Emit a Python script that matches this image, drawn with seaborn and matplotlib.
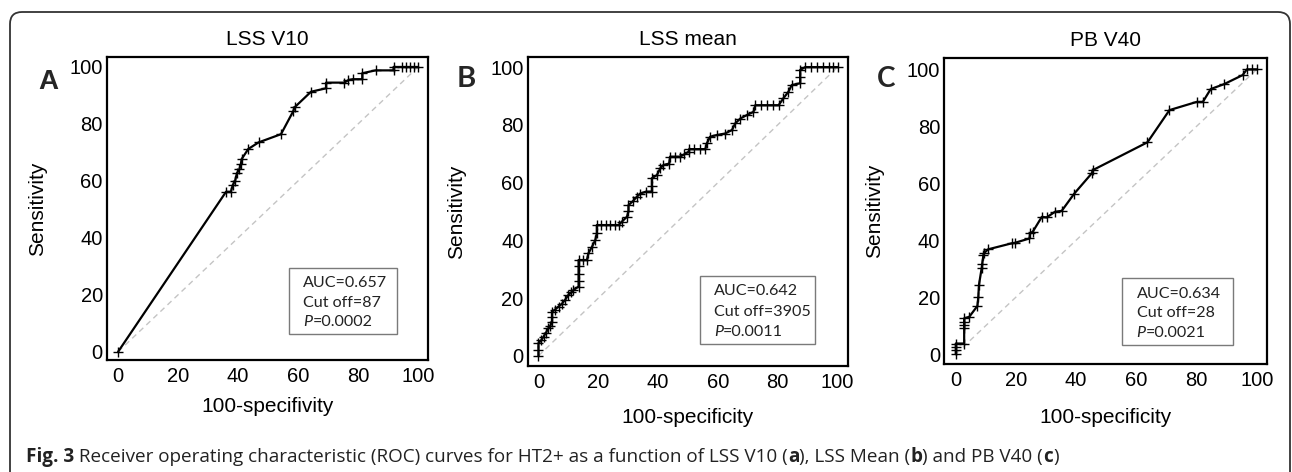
import matplotlib
matplotlib.use("Agg")
import matplotlib.pyplot as plt
import seaborn as sns
from matplotlib.patches import FancyBboxPatch, Rectangle
from matplotlib.ticker import MultipleLocator, AutoMinorLocator
from matplotlib.transforms import IdentityTransform

# ROC points (100-specificity, sensitivity)
a_fpr = [0, 36.0, 37.6, 38.2, 39.0, 39.6, 40.4, 40.9, 41.2, 43.4, 46.8, 54.3, 58.4, 58.8,
         64.3, 69.3, 69.3, 75.4, 76.8, 78.2, 81.4, 81.4, 85.8, 91.8, 91.8, 94.6, 96.0,
         97.3, 98.7, 100]
a_tpr = [0, 56.2, 56.2, 58.5, 60.0, 62.7, 64.0, 65.8, 67.7, 71.2, 73.5, 76.4, 84.5, 85.8,
         91.3, 92.5, 94.5, 94.5, 95.4, 95.7, 95.7, 97.8, 98.8, 98.8, 100, 100, 100,
         100, 100, 100]

b_fpr = [0, 0, 0, 1.0, 1.7, 2.5, 3.3, 4.0, 4.5, 4.5, 4.5, 5.5, 6.7, 7.8, 8.9, 10.0, 11.0,
         11.7, 13.4, 13.4, 13.4, 13.4, 13.4, 14.8, 16.2, 16.7, 17.9, 19.0, 19.5, 19.5,
         21.0, 22.5, 24.0, 25.5, 26.8, 27.9, 29.6, 30.1, 30.1, 31.5, 32.9, 34.0, 36.0,
         37.9, 37.9, 37.9, 39.6, 40.7, 41.8, 43.7, 44.0, 45.5, 47.4, 48.8, 50.2, 50.4,
         52.0, 54.0, 55.8, 56.3, 57.4, 59.7, 62.4, 64.7, 65.8, 67.5, 69.7, 71.9, 72.5,
         74.5, 76.5, 78.5, 80.3, 81.9, 83.6, 84.7, 87.5, 87.5, 87.5, 89.2, 91.0, 93.0,
         95.0, 97.0, 98.5, 100]
b_tpr = [0, 2.0, 4.4, 5.5, 6.7, 8.0, 9.6, 10.5, 11.9, 13.5, 15.3, 16.0, 17.1, 18.0, 19.4,
         21.1, 22.0, 22.8, 24.0, 26.0, 28.5, 31.0, 33.2, 33.2, 33.2, 35.5, 37.8, 40.1,
         42.4, 45.3, 45.3, 45.3, 45.3, 45.3, 45.3, 46.5, 48.2, 50.0, 52.2, 53.5, 55.1,
         56.2, 56.9, 56.9, 59.0, 61.5, 62.6, 64.9, 66.1, 66.6, 69.0, 69.0, 69.0, 69.8,
         70.7, 71.6, 71.6, 71.6, 71.6, 73.6, 75.9, 76.5, 77.0, 78.2, 80.5, 82.2, 83.4,
         84.5, 86.8, 86.8, 86.8, 86.8, 86.8, 89.2, 91.5, 93.8, 94.4, 96.5, 99.0, 100,
         100, 100, 100, 100, 100, 100]

c_fpr = [0, 0, 0, 0, 2.8, 2.8, 2.8, 2.8, 2.8, 4.5, 7.2, 7.5, 7.7, 8.6, 8.8, 9.2, 9.4,
         10.8, 18.6, 19.7, 24.5, 24.7, 25.6, 28.6, 30.2, 33.0, 35.2, 39.4, 45.2, 45.5,
         63.7, 71.0, 80.1, 82.1, 84.7, 89.1, 95.3, 96.7, 98.3, 100]
c_tpr = [0, 1.5, 2.5, 3.7, 3.7, 9.0, 10.2, 11.4, 12.5, 13.1, 16.9, 20.1, 24.2, 30.1, 31.8,
         34.8, 35.5, 36.8, 38.9, 39.1, 40.6, 42.4, 43.0, 48.2, 48.0, 50.0, 50.3, 56.4,
         63.5, 64.6, 74.4, 85.7, 88.6, 88.6, 93.1, 94.8, 98.0, 100, 100, 100]

diag = [0, 100]

titles = ["LSS V10", "LSS mean", "PB V40"]
letters = ["A", "B", "C"]
xlabels = ["100-specifivity", "100-specificity", "100-specificity"]
auc = ["0.657", "0.642", "0.634"]
cutoff = ["87", "3905", "28"]
pval = ["0.0002", "0.0011", "0.0021"]

W, H = 1292, 472
sns.set_theme(style="white")
plt.rcParams["font.family"] = ["Liberation Sans", "DejaVu Sans"]

fig = plt.figure(figsize=(W / 100, H / 100), dpi=100)
fig.patch.set_facecolor("white")


def fx(px):
    return px / W


def fy(py):
    return 1 - py / H


# axes boxes in pixels: left, top, right, bottom
boxes = [(107, 57, 428, 360), (527.7, 56.7, 847.7, 366), (944.3, 58.3, 1266.7, 364.3)]
lims = [((-3.7, 103.3), (-2.9, 103.5)), ((-3.6, 103.4), (-3.5, 103.6)),
        ((-3.8, 103.3), (-3.6, 103.9))]
ylab_x = [-0.215, -0.221, -0.215]
xlab_y = [-0.154, -0.168, -0.175]
series = [(a_fpr, a_tpr), (b_fpr, b_tpr), (c_fpr, c_tpr)]

for i, (l, t, r, b) in enumerate(boxes):
    ax = fig.add_axes([fx(l), fy(b), (r - l) / W, (b - t) / H])
    ax.set_facecolor("white")
    ax.plot(diag, diag, color="#c4c4c4", lw=1.0, ls=(0, (4, 3)), zorder=1)
    sns.lineplot(x=series[i][0], y=series[i][1], ax=ax, sort=False, estimator=None,
                 color="black", lw=1.6, marker="+", markersize=7, markeredgewidth=1.0,
                 markeredgecolor="black", zorder=3)
    ax.set_xlim(*lims[i][0])
    ax.set_ylim(*lims[i][1])
    ax.xaxis.set_major_locator(MultipleLocator(20))
    ax.yaxis.set_major_locator(MultipleLocator(20))
    ax.xaxis.set_minor_locator(AutoMinorLocator(3))
    ax.yaxis.set_minor_locator(AutoMinorLocator(3))
    ax.tick_params(which="major", direction="in", length=8, width=1.3, colors="black",
                   labelsize=14.5, pad=5)
    ax.tick_params(which="minor", direction="in", length=4.5, width=1.1, colors="black")
    ax.tick_params(axis="y", pad=3)
    for s in ax.spines.values():
        s.set_visible(True)
        s.set_linewidth(1.6)
        s.set_color("black")
    ax.set_title(titles[i], fontsize=15, pad=8.5, color="black")
    ax.set_ylabel("Sensitivity", fontsize=15, color="black")
    ax.set_xlabel(xlabels[i], fontsize=15, color="black")
    ax.yaxis.set_label_coords(ylab_x[i], 0.5)
    ax.xaxis.set_label_coords(0.5, xlab_y[i])
    ax.xaxis.label.set_va("center")
    ax.yaxis.label.set_va("center")

# panel letters
fig.text(fx(48.3), fy(89.3), "A", fontsize=20, fontweight="bold", ha="center",
         va="baseline", family=["Liberation Sans"])
fig.text(fx(466.7), fy(87.3), "B", fontsize=21, fontweight="bold", ha="center",
         va="baseline", family=["Lato"])
fig.text(fx(885.8), fy(87.3), "C", fontsize=20, fontweight="bold", ha="center",
         va="baseline", family=["Lato"])

renderer = fig.canvas.get_renderer()


def runs(x, y, pieces, size, family, color):
    for s, weight, style in pieces:
        t = fig.text(fx(x), fy(y), s, fontsize=size, fontweight=weight, fontstyle=style,
                     family=family, color=color, ha="left", va="baseline")
        x += t.get_window_extent(renderer).width


# stats boxes
stat_boxes = [(289.3, 268.3, 396.7, 334), (700, 276, 815, 344.3), (1122.3, 277.7, 1232.7, 345)]
stat_x = [303.3, 714, 1136.7]
stat_y = [(287.3, 307.3, 325.7), (295, 316, 336), (298.3, 317.3, 336.7)]
for i, (l, t, r, b) in enumerate(stat_boxes):
    fig.patches.append(Rectangle((fx(l), fy(b)), (r - l) / W, (b - t) / H,
                                 transform=fig.transFigure, fill=False,
                                 edgecolor="#7a7a7a", lw=1.0, zorder=5))
    y1, y2, y3 = stat_y[i]
    runs(stat_x[i], y1, [("AUC=" + auc[i], "normal", "normal")], 11.6, ["Lato"], "#222222")
    runs(stat_x[i], y2, [("Cut off=" + cutoff[i], "normal", "normal")], 11.6, ["Lato"], "#222222")
    runs(stat_x[i], y3, [("P", "normal", "italic"), ("=" + pval[i], "normal", "normal")],
         11.6, ["Lato"], "#222222")

# caption
caption = [("Fig. 3", "bold", "normal"),
           (" Receiver operating characteristic (ROC) curves for HT2+ as a function of LSS V10 (",
            "normal", "normal"),
           ("a", "bold", "normal"), ("), LSS Mean (", "normal", "normal"),
           ("b", "bold", "normal"), (") and PB V40 (", "normal", "normal"),
           ("c", "bold", "normal"), (")", "normal", "normal")]
runs(26, 462, caption, 13.6, ["Open Sans"], "#222222")

# rounded frame round the figure
frame = FancyBboxPatch((10, -20), 1280, H - 12 + 20,
                       boxstyle="round,pad=0,rounding_size=12",
                       transform=IdentityTransform(), fill=False,
                       edgecolor="#333333", lw=1.3)
fig.patches.append(frame)

fig.savefig("out.png", dpi=100, facecolor="white")
